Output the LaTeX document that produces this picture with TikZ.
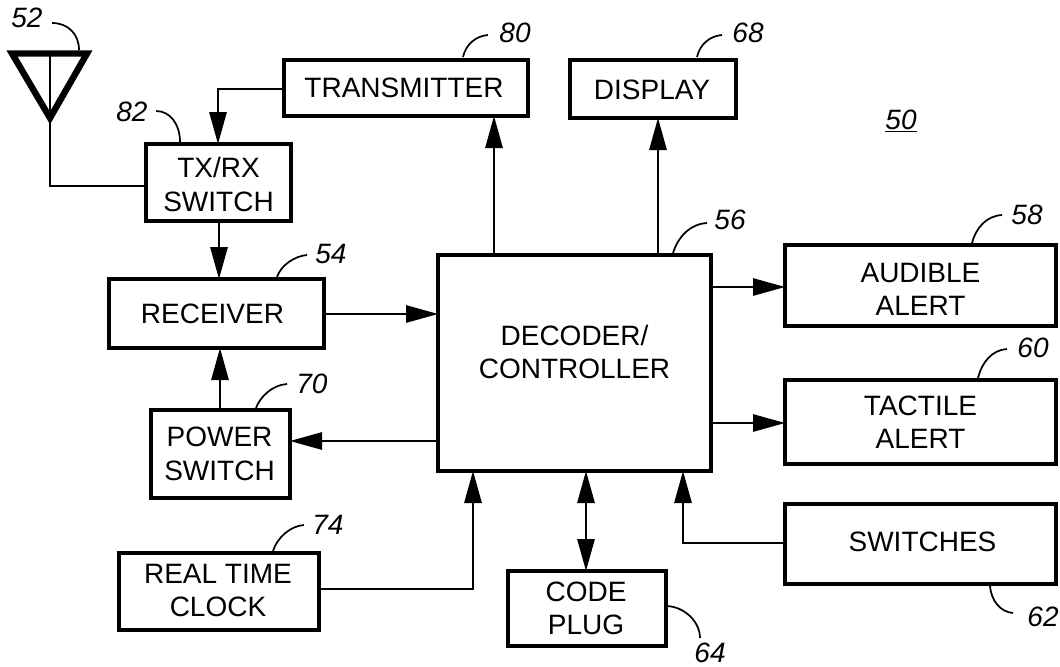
\documentclass[tikz,border=0pt]{standalone}
\usepackage{fontspec}
\setmainfont{Liberation Sans}
\usetikzlibrary{arrows.meta}
\tikzset{
 blk/.style={draw=black,line width=3.3pt,fill=white,inner sep=0pt,outer sep=0pt},
 blktext/.style={align=center,inner sep=0pt,font=\fontsize{21}{25}\selectfont},
 conn/.style={line width=1.4pt,-{Triangle[length=24pt,width=13pt]}},
 both/.style={line width=1.4pt,{Triangle[length=24pt,width=13pt]}-{Triangle[length=24pt,width=13pt]}},
 plain/.style={line width=1.4pt},
 refline/.style={line width=1.3pt},
 reflabel/.style={font=\itshape\fontsize{21}{23}\selectfont,inner sep=0pt}
}
\newcommand{\bx}[8]{\node[blk,minimum width={(#4-#2)*0.75pt},minimum height={(#5-#3)*0.75pt}] (#1) at ({(#2+#4)/2},{(#3+#5)/2}) {};
\node[blktext] (#1t) at ([shift={(#7,#8)}]#1.center) {#6};}
\newcommand{\lab}[3]{\node[reflabel] (l#1) at (#2,#3) {#1};}
\begin{document}
\begin{tikzpicture}[x=0.75pt,y=-0.75pt]
\useasboundingbox (0,0) rectangle (1060,667);
\bx{tx}{284}{60}{528}{116}{TRANSMITTER}{-2}{0}
\bx{disp}{570}{60}{736}{118}{DISPLAY}{-1}{1}
\bx{sw}{146}{144}{291}{221}{TX/RX\\SWITCH}{0}{2}
\bx{rx}{109}{279}{324}{348}{RECEIVER}{-4}{0}
\bx{dec}{438}{255}{711}{471}{DECODER/\\CONTROLLER}{0}{-11}
\bx{aud}{785}{245}{1056}{326}{AUDIBLE\\ALERT}{0}{4}
\bx{tac}{785}{380}{1056}{464}{TACTILE\\ALERT}{0}{0}
\bx{pow}{151}{410}{290}{498}{POWER\\SWITCH}{-1}{0}
\bx{rtc}{119}{553}{319}{630}{REAL TIME\\CLOCK}{-1}{-1}
\bx{code}{508}{571}{666}{646}{CODE\\PLUG}{-1}{0}
\bx{swi}{785}{504}{1056}{584}{SWITCHES}{2}{-2}
% antenna
\draw[line width=4.8pt,miter limit=10] (12,53.5) -- (87,53.5) -- (50,118) -- cycle;
\coordinate (anttop) at (50,53);
\draw[plain] (anttop) -- (50,186) -- (sw.west |- 0,186);
% connectors
\draw[conn] (tx.west |- 0,89) -- (218,89) -- (sw.north -| 218,0);
\draw[conn] (219,221) -- (rx.north -| 219,0);
\draw[conn] (rx.east |- 0,314) -- (dec.west |- 0,314);
\draw[conn] (pow.north -| 220,0) -- (rx.south -| 220,0);
\draw[conn] (dec.west |- 0,441) -- (pow.east |- 0,441);
\draw[conn] (dec.north -| 494,0) -- (tx.south -| 494,0);
\draw[conn] (dec.north -| 658,0) -- (disp.south -| 658,0);
\draw[conn] (dec.east |- 0,287) -- (aud.west |- 0,287);
\draw[conn] (dec.east |- 0,423) -- (tac.west |- 0,423);
\draw[conn] (rtc.east |- 0,589) -- (473,589) -- (dec.south -| 473,0);
\draw[both] (dec.south -| 586,0) -- (code.north -| 586,0);
\draw[conn] (swi.west |- 0,543) -- (683,543) -- (dec.south -| 683,0);
% reference marks
\lab{52}{27}{18}
\lab{82}{132}{112}
\lab{80}{515}{33}
\lab{68}{748}{33}
\lab{54}{331}{254}
\lab{56}{730}{220}
\lab{58}{1027}{215}
\lab{60}{1033}{348}
\lab{70}{312}{384}
\lab{74}{328}{525}
\lab{62}{1043}{617}
\lab{64}{710}{653}
\node[reflabel] (l50) at (901,121) {\underline{50}};
\draw[refline] (52,23) .. controls (68,23) and (79,34) .. (79,50);
\draw[refline] (156,111) .. controls (170,111) and (180,124) .. (180,142);
\draw[refline] (463,57) .. controls (466,44) and (476,36) .. (488,35);
\draw[refline] (697,57) .. controls (700,44) and (710,36) .. (722,35);
\draw[refline] (277,277) .. controls (281,265) and (295,256) .. (307,255);
\draw[refline] (673,253) .. controls (678,237) and (690,224) .. (707,223);
\draw[refline] (972,243) .. controls (976,228) and (986,216) .. (1002,215);
\draw[refline] (978,378) .. controls (982,362) and (992,350) .. (1007,349);
\draw[refline] (256,408) .. controls (260,397) and (272,385) .. (287,384);
\draw[refline] (273,551) .. controls (277,538) and (290,526) .. (304,525);
\draw[refline] (990,586) .. controls (991,600) and (1000,612) .. (1013,613);
\draw[refline] (667,606) .. controls (685,607) and (700,622) .. (700,638);
\end{tikzpicture}
\end{document}
